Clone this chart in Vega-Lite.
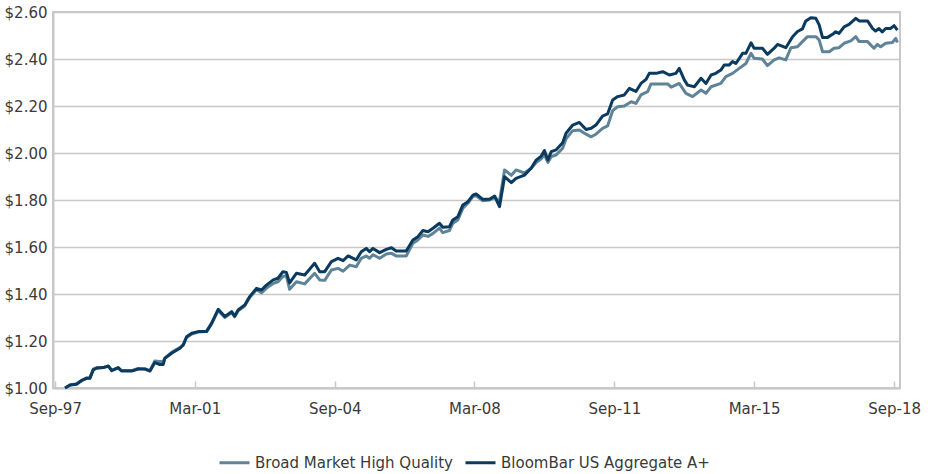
{
  "$schema": "https://vega.github.io/schema/vega-lite/v6.json",
  "autosize": "none",
  "width": 847,
  "height": 376,
  "padding": {"left": 53, "top": 12, "right": 28, "bottom": 86},
  "background": "white",
  "config": {
    "font": "DejaVu Sans",
    "view": {"stroke": "#c8c8c8", "strokeWidth": 2},
    "axis": {"labelFont": "DejaVu Sans", "labelFontSize": 15, "labelColor": "#3a3a3a", "gridColor": "#c8c8c8", "gridWidth": 1.5, "domainColor": "#c8c8c8", "domainWidth": 2, "tickColor": "#c8c8c8", "tickWidth": 1.5, "title": null}
  },
  "datasets": {
    "d": [
      {"s":"Broad Market High Quality","d":"1997-12-01","v":1.000},
      {"s":"Broad Market High Quality","d":"1998-01-16","v":1.013},
      {"s":"Broad Market High Quality","d":"1998-03-16","v":1.018},
      {"s":"Broad Market High Quality","d":"1998-05-01","v":1.033},
      {"s":"Broad Market High Quality","d":"1998-06-16","v":1.043},
      {"s":"Broad Market High Quality","d":"1998-07-16","v":1.043},
      {"s":"Broad Market High Quality","d":"1998-08-16","v":1.080},
      {"s":"Broad Market High Quality","d":"1998-09-16","v":1.087},
      {"s":"Broad Market High Quality","d":"1998-11-16","v":1.087},
      {"s":"Broad Market High Quality","d":"1999-01-01","v":1.092},
      {"s":"Broad Market High Quality","d":"1999-02-01","v":1.076},
      {"s":"Broad Market High Quality","d":"1999-04-01","v":1.085},
      {"s":"Broad Market High Quality","d":"1999-05-01","v":1.074},
      {"s":"Broad Market High Quality","d":"1999-08-01","v":1.074},
      {"s":"Broad Market High Quality","d":"1999-10-01","v":1.083},
      {"s":"Broad Market High Quality","d":"1999-12-01","v":1.081},
      {"s":"Broad Market High Quality","d":"2000-01-16","v":1.074},
      {"s":"Broad Market High Quality","d":"2000-03-01","v":1.115},
      {"s":"Broad Market High Quality","d":"2000-04-16","v":1.113},
      {"s":"Broad Market High Quality","d":"2000-05-16","v":1.113},
      {"s":"Broad Market High Quality","d":"2000-06-01","v":1.128},
      {"s":"Broad Market High Quality","d":"2000-08-01","v":1.152},
      {"s":"Broad Market High Quality","d":"2000-10-16","v":1.172},
      {"s":"Broad Market High Quality","d":"2000-11-16","v":1.185},
      {"s":"Broad Market High Quality","d":"2000-12-16","v":1.215},
      {"s":"Broad Market High Quality","d":"2001-02-01","v":1.230},
      {"s":"Broad Market High Quality","d":"2001-04-01","v":1.238},
      {"s":"Broad Market High Quality","d":"2001-06-16","v":1.240},
      {"s":"Broad Market High Quality","d":"2001-08-01","v":1.272},
      {"s":"Broad Market High Quality","d":"2001-10-01","v":1.330},
      {"s":"Broad Market High Quality","d":"2001-12-01","v":1.300},
      {"s":"Broad Market High Quality","d":"2002-02-01","v":1.320},
      {"s":"Broad Market High Quality","d":"2002-03-01","v":1.303},
      {"s":"Broad Market High Quality","d":"2002-04-01","v":1.328},
      {"s":"Broad Market High Quality","d":"2002-06-01","v":1.350},
      {"s":"Broad Market High Quality","d":"2002-07-16","v":1.385},
      {"s":"Broad Market High Quality","d":"2002-09-16","v":1.418},
      {"s":"Broad Market High Quality","d":"2002-11-01","v":1.405},
      {"s":"Broad Market High Quality","d":"2002-12-16","v":1.425},
      {"s":"Broad Market High Quality","d":"2003-02-16","v":1.445},
      {"s":"Broad Market High Quality","d":"2003-04-01","v":1.452},
      {"s":"Broad Market High Quality","d":"2003-05-16","v":1.475},
      {"s":"Broad Market High Quality","d":"2003-06-16","v":1.478},
      {"s":"Broad Market High Quality","d":"2003-07-16","v":1.420},
      {"s":"Broad Market High Quality","d":"2003-09-16","v":1.452},
      {"s":"Broad Market High Quality","d":"2003-12-01","v":1.443},
      {"s":"Broad Market High Quality","d":"2004-03-01","v":1.488},
      {"s":"Broad Market High Quality","d":"2004-04-16","v":1.460},
      {"s":"Broad Market High Quality","d":"2004-06-01","v":1.458},
      {"s":"Broad Market High Quality","d":"2004-08-01","v":1.502},
      {"s":"Broad Market High Quality","d":"2004-10-01","v":1.509},
      {"s":"Broad Market High Quality","d":"2004-11-16","v":1.497},
      {"s":"Broad Market High Quality","d":"2005-01-16","v":1.523},
      {"s":"Broad Market High Quality","d":"2005-03-16","v":1.516},
      {"s":"Broad Market High Quality","d":"2005-05-01","v":1.552},
      {"s":"Broad Market High Quality","d":"2005-06-16","v":1.562},
      {"s":"Broad Market High Quality","d":"2005-07-16","v":1.552},
      {"s":"Broad Market High Quality","d":"2005-08-16","v":1.567},
      {"s":"Broad Market High Quality","d":"2005-10-16","v":1.552},
      {"s":"Broad Market High Quality","d":"2005-12-16","v":1.570},
      {"s":"Broad Market High Quality","d":"2006-02-01","v":1.573},
      {"s":"Broad Market High Quality","d":"2006-03-16","v":1.562},
      {"s":"Broad Market High Quality","d":"2006-06-16","v":1.562},
      {"s":"Broad Market High Quality","d":"2006-08-16","v":1.616},
      {"s":"Broad Market High Quality","d":"2006-10-01","v":1.630},
      {"s":"Broad Market High Quality","d":"2006-11-16","v":1.651},
      {"s":"Broad Market High Quality","d":"2007-01-01","v":1.645},
      {"s":"Broad Market High Quality","d":"2007-02-16","v":1.658},
      {"s":"Broad Market High Quality","d":"2007-04-16","v":1.680},
      {"s":"Broad Market High Quality","d":"2007-05-16","v":1.661},
      {"s":"Broad Market High Quality","d":"2007-07-16","v":1.670},
      {"s":"Broad Market High Quality","d":"2007-08-16","v":1.701},
      {"s":"Broad Market High Quality","d":"2007-10-01","v":1.715},
      {"s":"Broad Market High Quality","d":"2007-11-16","v":1.765},
      {"s":"Broad Market High Quality","d":"2008-01-01","v":1.786},
      {"s":"Broad Market High Quality","d":"2008-02-16","v":1.815},
      {"s":"Broad Market High Quality","d":"2008-03-16","v":1.818},
      {"s":"Broad Market High Quality","d":"2008-05-16","v":1.797},
      {"s":"Broad Market High Quality","d":"2008-07-16","v":1.800},
      {"s":"Broad Market High Quality","d":"2008-09-01","v":1.810},
      {"s":"Broad Market High Quality","d":"2008-10-16","v":1.795},
      {"s":"Broad Market High Quality","d":"2008-12-01","v":1.928},
      {"s":"Broad Market High Quality","d":"2009-02-01","v":1.905},
      {"s":"Broad Market High Quality","d":"2009-03-16","v":1.928},
      {"s":"Broad Market High Quality","d":"2009-06-01","v":1.915},
      {"s":"Broad Market High Quality","d":"2009-08-01","v":1.935},
      {"s":"Broad Market High Quality","d":"2009-09-16","v":1.960},
      {"s":"Broad Market High Quality","d":"2009-11-01","v":1.975},
      {"s":"Broad Market High Quality","d":"2009-12-01","v":1.992},
      {"s":"Broad Market High Quality","d":"2010-01-01","v":1.960},
      {"s":"Broad Market High Quality","d":"2010-02-01","v":1.985},
      {"s":"Broad Market High Quality","d":"2010-03-16","v":1.991},
      {"s":"Broad Market High Quality","d":"2010-05-16","v":2.020},
      {"s":"Broad Market High Quality","d":"2010-06-16","v":2.060},
      {"s":"Broad Market High Quality","d":"2010-08-16","v":2.095},
      {"s":"Broad Market High Quality","d":"2010-10-16","v":2.098},
      {"s":"Broad Market High Quality","d":"2010-12-16","v":2.080},
      {"s":"Broad Market High Quality","d":"2011-02-01","v":2.069},
      {"s":"Broad Market High Quality","d":"2011-03-16","v":2.080},
      {"s":"Broad Market High Quality","d":"2011-05-16","v":2.105},
      {"s":"Broad Market High Quality","d":"2011-07-01","v":2.115},
      {"s":"Broad Market High Quality","d":"2011-08-16","v":2.180},
      {"s":"Broad Market High Quality","d":"2011-10-01","v":2.197},
      {"s":"Broad Market High Quality","d":"2011-12-01","v":2.200},
      {"s":"Broad Market High Quality","d":"2012-02-01","v":2.218},
      {"s":"Broad Market High Quality","d":"2012-03-16","v":2.211},
      {"s":"Broad Market High Quality","d":"2012-05-01","v":2.247},
      {"s":"Broad Market High Quality","d":"2012-07-01","v":2.261},
      {"s":"Broad Market High Quality","d":"2012-08-01","v":2.294},
      {"s":"Broad Market High Quality","d":"2013-01-01","v":2.294},
      {"s":"Broad Market High Quality","d":"2013-02-01","v":2.280},
      {"s":"Broad Market High Quality","d":"2013-04-16","v":2.296},
      {"s":"Broad Market High Quality","d":"2013-06-16","v":2.254},
      {"s":"Broad Market High Quality","d":"2013-08-16","v":2.240},
      {"s":"Broad Market High Quality","d":"2013-11-01","v":2.268},
      {"s":"Broad Market High Quality","d":"2013-12-16","v":2.254},
      {"s":"Broad Market High Quality","d":"2014-02-01","v":2.282},
      {"s":"Broad Market High Quality","d":"2014-05-01","v":2.296},
      {"s":"Broad Market High Quality","d":"2014-06-16","v":2.325},
      {"s":"Broad Market High Quality","d":"2014-08-16","v":2.339},
      {"s":"Broad Market High Quality","d":"2014-10-16","v":2.360},
      {"s":"Broad Market High Quality","d":"2014-12-16","v":2.381},
      {"s":"Broad Market High Quality","d":"2015-02-01","v":2.424},
      {"s":"Broad Market High Quality","d":"2015-03-01","v":2.403},
      {"s":"Broad Market High Quality","d":"2015-05-16","v":2.400},
      {"s":"Broad Market High Quality","d":"2015-07-01","v":2.372},
      {"s":"Broad Market High Quality","d":"2015-09-01","v":2.396},
      {"s":"Broad Market High Quality","d":"2015-10-16","v":2.405},
      {"s":"Broad Market High Quality","d":"2015-12-16","v":2.396},
      {"s":"Broad Market High Quality","d":"2016-02-01","v":2.448},
      {"s":"Broad Market High Quality","d":"2016-04-01","v":2.452},
      {"s":"Broad Market High Quality","d":"2016-05-16","v":2.474},
      {"s":"Broad Market High Quality","d":"2016-07-01","v":2.495},
      {"s":"Broad Market High Quality","d":"2016-09-16","v":2.495},
      {"s":"Broad Market High Quality","d":"2016-10-16","v":2.481},
      {"s":"Broad Market High Quality","d":"2016-11-16","v":2.431},
      {"s":"Broad Market High Quality","d":"2017-01-16","v":2.431},
      {"s":"Broad Market High Quality","d":"2017-03-01","v":2.446},
      {"s":"Broad Market High Quality","d":"2017-04-16","v":2.448},
      {"s":"Broad Market High Quality","d":"2017-06-01","v":2.467},
      {"s":"Broad Market High Quality","d":"2017-08-01","v":2.477},
      {"s":"Broad Market High Quality","d":"2017-09-16","v":2.495},
      {"s":"Broad Market High Quality","d":"2017-10-16","v":2.474},
      {"s":"Broad Market High Quality","d":"2018-01-01","v":2.474},
      {"s":"Broad Market High Quality","d":"2018-03-01","v":2.446},
      {"s":"Broad Market High Quality","d":"2018-04-01","v":2.462},
      {"s":"Broad Market High Quality","d":"2018-05-01","v":2.452},
      {"s":"Broad Market High Quality","d":"2018-06-16","v":2.467},
      {"s":"Broad Market High Quality","d":"2018-08-16","v":2.470},
      {"s":"Broad Market High Quality","d":"2018-09-16","v":2.488},
      {"s":"Broad Market High Quality","d":"2018-10-01","v":2.470},
      {"s":"BloomBar US Aggregate A+","d":"1997-12-01","v":1.000},
      {"s":"BloomBar US Aggregate A+","d":"1998-01-16","v":1.013},
      {"s":"BloomBar US Aggregate A+","d":"1998-03-16","v":1.016},
      {"s":"BloomBar US Aggregate A+","d":"1998-05-01","v":1.031},
      {"s":"BloomBar US Aggregate A+","d":"1998-06-16","v":1.041},
      {"s":"BloomBar US Aggregate A+","d":"1998-07-16","v":1.041},
      {"s":"BloomBar US Aggregate A+","d":"1998-08-16","v":1.077},
      {"s":"BloomBar US Aggregate A+","d":"1998-09-16","v":1.084},
      {"s":"BloomBar US Aggregate A+","d":"1998-11-16","v":1.087},
      {"s":"BloomBar US Aggregate A+","d":"1999-01-01","v":1.094},
      {"s":"BloomBar US Aggregate A+","d":"1999-02-01","v":1.074},
      {"s":"BloomBar US Aggregate A+","d":"1999-04-01","v":1.087},
      {"s":"BloomBar US Aggregate A+","d":"1999-05-01","v":1.072},
      {"s":"BloomBar US Aggregate A+","d":"1999-08-01","v":1.072},
      {"s":"BloomBar US Aggregate A+","d":"1999-10-01","v":1.081},
      {"s":"BloomBar US Aggregate A+","d":"1999-12-01","v":1.081},
      {"s":"BloomBar US Aggregate A+","d":"2000-01-16","v":1.072},
      {"s":"BloomBar US Aggregate A+","d":"2000-03-01","v":1.108},
      {"s":"BloomBar US Aggregate A+","d":"2000-04-16","v":1.100},
      {"s":"BloomBar US Aggregate A+","d":"2000-05-16","v":1.100},
      {"s":"BloomBar US Aggregate A+","d":"2000-06-01","v":1.126},
      {"s":"BloomBar US Aggregate A+","d":"2000-08-01","v":1.148},
      {"s":"BloomBar US Aggregate A+","d":"2000-10-16","v":1.169},
      {"s":"BloomBar US Aggregate A+","d":"2000-11-16","v":1.183},
      {"s":"BloomBar US Aggregate A+","d":"2000-12-16","v":1.218},
      {"s":"BloomBar US Aggregate A+","d":"2001-02-01","v":1.233},
      {"s":"BloomBar US Aggregate A+","d":"2001-04-01","v":1.240},
      {"s":"BloomBar US Aggregate A+","d":"2001-06-16","v":1.240},
      {"s":"BloomBar US Aggregate A+","d":"2001-08-01","v":1.275},
      {"s":"BloomBar US Aggregate A+","d":"2001-10-01","v":1.335},
      {"s":"BloomBar US Aggregate A+","d":"2001-12-01","v":1.304},
      {"s":"BloomBar US Aggregate A+","d":"2002-02-01","v":1.325},
      {"s":"BloomBar US Aggregate A+","d":"2002-03-01","v":1.306},
      {"s":"BloomBar US Aggregate A+","d":"2002-04-01","v":1.332},
      {"s":"BloomBar US Aggregate A+","d":"2002-06-01","v":1.353},
      {"s":"BloomBar US Aggregate A+","d":"2002-07-16","v":1.389},
      {"s":"BloomBar US Aggregate A+","d":"2002-09-16","v":1.424},
      {"s":"BloomBar US Aggregate A+","d":"2002-11-01","v":1.417},
      {"s":"BloomBar US Aggregate A+","d":"2002-12-16","v":1.438},
      {"s":"BloomBar US Aggregate A+","d":"2003-02-16","v":1.460},
      {"s":"BloomBar US Aggregate A+","d":"2003-04-01","v":1.467},
      {"s":"BloomBar US Aggregate A+","d":"2003-05-16","v":1.495},
      {"s":"BloomBar US Aggregate A+","d":"2003-06-16","v":1.492},
      {"s":"BloomBar US Aggregate A+","d":"2003-07-16","v":1.447},
      {"s":"BloomBar US Aggregate A+","d":"2003-09-16","v":1.488},
      {"s":"BloomBar US Aggregate A+","d":"2003-12-01","v":1.481},
      {"s":"BloomBar US Aggregate A+","d":"2004-03-01","v":1.531},
      {"s":"BloomBar US Aggregate A+","d":"2004-04-16","v":1.495},
      {"s":"BloomBar US Aggregate A+","d":"2004-06-01","v":1.495},
      {"s":"BloomBar US Aggregate A+","d":"2004-08-01","v":1.538},
      {"s":"BloomBar US Aggregate A+","d":"2004-10-01","v":1.552},
      {"s":"BloomBar US Aggregate A+","d":"2004-11-16","v":1.542},
      {"s":"BloomBar US Aggregate A+","d":"2005-01-01","v":1.562},
      {"s":"BloomBar US Aggregate A+","d":"2005-03-16","v":1.545},
      {"s":"BloomBar US Aggregate A+","d":"2005-05-01","v":1.580},
      {"s":"BloomBar US Aggregate A+","d":"2005-06-16","v":1.594},
      {"s":"BloomBar US Aggregate A+","d":"2005-07-16","v":1.580},
      {"s":"BloomBar US Aggregate A+","d":"2005-08-16","v":1.594},
      {"s":"BloomBar US Aggregate A+","d":"2005-10-16","v":1.576},
      {"s":"BloomBar US Aggregate A+","d":"2005-12-16","v":1.590},
      {"s":"BloomBar US Aggregate A+","d":"2006-02-01","v":1.597},
      {"s":"BloomBar US Aggregate A+","d":"2006-03-16","v":1.583},
      {"s":"BloomBar US Aggregate A+","d":"2006-06-16","v":1.583},
      {"s":"BloomBar US Aggregate A+","d":"2006-08-16","v":1.630},
      {"s":"BloomBar US Aggregate A+","d":"2006-10-01","v":1.644},
      {"s":"BloomBar US Aggregate A+","d":"2006-11-16","v":1.670},
      {"s":"BloomBar US Aggregate A+","d":"2007-01-01","v":1.665},
      {"s":"BloomBar US Aggregate A+","d":"2007-02-16","v":1.680},
      {"s":"BloomBar US Aggregate A+","d":"2007-04-16","v":1.701},
      {"s":"BloomBar US Aggregate A+","d":"2007-05-16","v":1.684},
      {"s":"BloomBar US Aggregate A+","d":"2007-07-16","v":1.686},
      {"s":"BloomBar US Aggregate A+","d":"2007-08-16","v":1.715},
      {"s":"BloomBar US Aggregate A+","d":"2007-10-01","v":1.729},
      {"s":"BloomBar US Aggregate A+","d":"2007-11-16","v":1.779},
      {"s":"BloomBar US Aggregate A+","d":"2008-01-01","v":1.793},
      {"s":"BloomBar US Aggregate A+","d":"2008-02-16","v":1.821},
      {"s":"BloomBar US Aggregate A+","d":"2008-03-16","v":1.826},
      {"s":"BloomBar US Aggregate A+","d":"2008-05-16","v":1.803},
      {"s":"BloomBar US Aggregate A+","d":"2008-07-16","v":1.803},
      {"s":"BloomBar US Aggregate A+","d":"2008-09-01","v":1.817},
      {"s":"BloomBar US Aggregate A+","d":"2008-10-16","v":1.772},
      {"s":"BloomBar US Aggregate A+","d":"2008-12-01","v":1.899},
      {"s":"BloomBar US Aggregate A+","d":"2009-02-01","v":1.874},
      {"s":"BloomBar US Aggregate A+","d":"2009-03-16","v":1.892},
      {"s":"BloomBar US Aggregate A+","d":"2009-06-01","v":1.906},
      {"s":"BloomBar US Aggregate A+","d":"2009-08-01","v":1.935},
      {"s":"BloomBar US Aggregate A+","d":"2009-09-16","v":1.970},
      {"s":"BloomBar US Aggregate A+","d":"2009-11-01","v":1.987},
      {"s":"BloomBar US Aggregate A+","d":"2009-12-01","v":2.010},
      {"s":"BloomBar US Aggregate A+","d":"2010-01-01","v":1.970},
      {"s":"BloomBar US Aggregate A+","d":"2010-02-01","v":2.006},
      {"s":"BloomBar US Aggregate A+","d":"2010-03-16","v":2.013},
      {"s":"BloomBar US Aggregate A+","d":"2010-05-16","v":2.044},
      {"s":"BloomBar US Aggregate A+","d":"2010-06-16","v":2.084},
      {"s":"BloomBar US Aggregate A+","d":"2010-08-16","v":2.119},
      {"s":"BloomBar US Aggregate A+","d":"2010-10-16","v":2.130},
      {"s":"BloomBar US Aggregate A+","d":"2010-12-16","v":2.100},
      {"s":"BloomBar US Aggregate A+","d":"2011-02-01","v":2.105},
      {"s":"BloomBar US Aggregate A+","d":"2011-03-16","v":2.119},
      {"s":"BloomBar US Aggregate A+","d":"2011-05-16","v":2.157},
      {"s":"BloomBar US Aggregate A+","d":"2011-07-01","v":2.166},
      {"s":"BloomBar US Aggregate A+","d":"2011-08-16","v":2.226},
      {"s":"BloomBar US Aggregate A+","d":"2011-10-01","v":2.240},
      {"s":"BloomBar US Aggregate A+","d":"2011-12-01","v":2.247},
      {"s":"BloomBar US Aggregate A+","d":"2012-01-16","v":2.275},
      {"s":"BloomBar US Aggregate A+","d":"2012-03-16","v":2.262},
      {"s":"BloomBar US Aggregate A+","d":"2012-05-01","v":2.296},
      {"s":"BloomBar US Aggregate A+","d":"2012-06-16","v":2.313},
      {"s":"BloomBar US Aggregate A+","d":"2012-07-16","v":2.339},
      {"s":"BloomBar US Aggregate A+","d":"2012-09-16","v":2.339},
      {"s":"BloomBar US Aggregate A+","d":"2012-11-16","v":2.346},
      {"s":"BloomBar US Aggregate A+","d":"2013-01-16","v":2.332},
      {"s":"BloomBar US Aggregate A+","d":"2013-03-16","v":2.339},
      {"s":"BloomBar US Aggregate A+","d":"2013-04-16","v":2.360},
      {"s":"BloomBar US Aggregate A+","d":"2013-06-01","v":2.311},
      {"s":"BloomBar US Aggregate A+","d":"2013-07-01","v":2.289},
      {"s":"BloomBar US Aggregate A+","d":"2013-09-01","v":2.282},
      {"s":"BloomBar US Aggregate A+","d":"2013-11-01","v":2.318},
      {"s":"BloomBar US Aggregate A+","d":"2013-12-16","v":2.296},
      {"s":"BloomBar US Aggregate A+","d":"2014-02-01","v":2.332},
      {"s":"BloomBar US Aggregate A+","d":"2014-03-16","v":2.339},
      {"s":"BloomBar US Aggregate A+","d":"2014-05-01","v":2.353},
      {"s":"BloomBar US Aggregate A+","d":"2014-06-01","v":2.374},
      {"s":"BloomBar US Aggregate A+","d":"2014-07-16","v":2.374},
      {"s":"BloomBar US Aggregate A+","d":"2014-08-16","v":2.389},
      {"s":"BloomBar US Aggregate A+","d":"2014-09-16","v":2.381},
      {"s":"BloomBar US Aggregate A+","d":"2014-11-16","v":2.424},
      {"s":"BloomBar US Aggregate A+","d":"2014-12-16","v":2.424},
      {"s":"BloomBar US Aggregate A+","d":"2015-02-01","v":2.469},
      {"s":"BloomBar US Aggregate A+","d":"2015-03-01","v":2.446},
      {"s":"BloomBar US Aggregate A+","d":"2015-05-16","v":2.446},
      {"s":"BloomBar US Aggregate A+","d":"2015-07-01","v":2.420},
      {"s":"BloomBar US Aggregate A+","d":"2015-09-01","v":2.446},
      {"s":"BloomBar US Aggregate A+","d":"2015-10-01","v":2.462},
      {"s":"BloomBar US Aggregate A+","d":"2015-12-16","v":2.448},
      {"s":"BloomBar US Aggregate A+","d":"2016-02-16","v":2.495},
      {"s":"BloomBar US Aggregate A+","d":"2016-04-01","v":2.517},
      {"s":"BloomBar US Aggregate A+","d":"2016-05-16","v":2.528},
      {"s":"BloomBar US Aggregate A+","d":"2016-06-16","v":2.562},
      {"s":"BloomBar US Aggregate A+","d":"2016-08-01","v":2.576},
      {"s":"BloomBar US Aggregate A+","d":"2016-09-16","v":2.573},
      {"s":"BloomBar US Aggregate A+","d":"2016-10-16","v":2.545},
      {"s":"BloomBar US Aggregate A+","d":"2016-11-16","v":2.491},
      {"s":"BloomBar US Aggregate A+","d":"2017-01-01","v":2.492},
      {"s":"BloomBar US Aggregate A+","d":"2017-02-16","v":2.505},
      {"s":"BloomBar US Aggregate A+","d":"2017-03-16","v":2.516},
      {"s":"BloomBar US Aggregate A+","d":"2017-04-16","v":2.509},
      {"s":"BloomBar US Aggregate A+","d":"2017-06-01","v":2.537},
      {"s":"BloomBar US Aggregate A+","d":"2017-07-16","v":2.547},
      {"s":"BloomBar US Aggregate A+","d":"2017-09-16","v":2.573},
      {"s":"BloomBar US Aggregate A+","d":"2017-10-16","v":2.562},
      {"s":"BloomBar US Aggregate A+","d":"2018-01-01","v":2.562},
      {"s":"BloomBar US Aggregate A+","d":"2018-02-16","v":2.530},
      {"s":"BloomBar US Aggregate A+","d":"2018-03-16","v":2.519},
      {"s":"BloomBar US Aggregate A+","d":"2018-04-16","v":2.530},
      {"s":"BloomBar US Aggregate A+","d":"2018-05-16","v":2.515},
      {"s":"BloomBar US Aggregate A+","d":"2018-06-16","v":2.530},
      {"s":"BloomBar US Aggregate A+","d":"2018-08-01","v":2.530},
      {"s":"BloomBar US Aggregate A+","d":"2018-09-01","v":2.542},
      {"s":"BloomBar US Aggregate A+","d":"2018-10-01","v":2.523}
    ]
  },
  "data": {"name": "d"},
  "mark": {"type": "line", "strokeWidth": 3, "strokeJoin": "round"},
  "encoding": {
    "x": {
      "field": "d", "type": "temporal",
      "scale": {"type": "utc", "domain": [{"year": 1997, "month": 8, "date": 13, "utc": true}, {"year": 2018, "month": 10, "date": 25, "utc": true}]},
      "axis": {
        "values": [
          {"year": 1997, "month": 9, "date": 1, "utc": true},
          {"year": 2001, "month": 3, "date": 1, "utc": true},
          {"year": 2004, "month": 9, "date": 1, "utc": true},
          {"year": 2008, "month": 3, "date": 1, "utc": true},
          {"year": 2011, "month": 9, "date": 1, "utc": true},
          {"year": 2015, "month": 3, "date": 1, "utc": true},
          {"year": 2018, "month": 9, "date": 1, "utc": true}
        ],
        "format": "%b-%y", "grid": false, "tickSize": -7, "labelPadding": 20, "labelFlush": false, "labelOverlap": false
      }
    },
    "y": {
      "field": "v", "type": "quantitative",
      "scale": {"domain": [1, 2.6], "nice": false, "zero": false},
      "axis": {"values": [1, 1.2, 1.4, 1.6, 1.8, 2, 2.2, 2.4, 2.6], "format": "$.2f", "ticks": false, "labelPadding": 6}
    },
    "color": {
      "field": "s", "type": "nominal",
      "scale": {"domain": ["Broad Market High Quality", "BloomBar US Aggregate A+"], "range": ["#5f8397", "#0b3a5f"]},
      "legend": {"title": null, "orient": "none", "direction": "horizontal", "legendX": 165, "legendY": 434, "symbolType": "stroke", "symbolSize": 900, "symbolStrokeWidth": 3, "labelFontSize": 15, "labelFont": "DejaVu Sans", "labelColor": "#3a3a3a", "columnPadding": 6, "labelOffset": 4, "labelLimit": 400}
    }
  }
}
